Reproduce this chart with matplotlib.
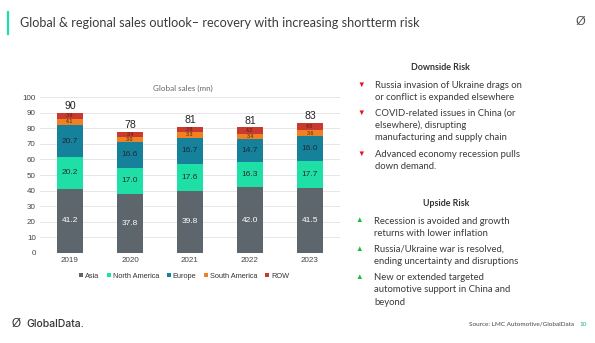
import matplotlib
matplotlib.use("Agg")
import matplotlib.pyplot as plt
import numpy as np

years = ["2019", "2020", "2021", "2022", "2023"]
asia = [41.2, 37.8, 39.8, 42.0, 41.5]
north_america = [20.2, 17.0, 17.6, 16.3, 17.7]
europe = [20.7, 16.6, 16.7, 14.7, 16.0]
south_america = [4.1, 3.0, 3.3, 3.4, 3.6]
row = [3.9, 3.4, 3.8, 4.2, 4.5]
totals = [90, 78, 81, 81, 83]

series = [
    ("Asia", asia, "#5d666d", "white", 6.0),
    ("North America", north_america, "#1ee0a6", "#2a2a2a", 6.0),
    ("Europe", europe, "#16819b", "#1d2a3a", 6.0),
    ("South America", south_america, "#f08022", "#3a2a1a", 3.8),
    ("ROW", row, "#c93a2e", "#5a1a10", 3.8),
]

downside = [
    ["Russia invasion of Ukraine drags on", "or conflict is expanded elsewhere"],
    ["COVID-related issues in China (or", "elsewhere), disrupting",
     "manufacturing and supply chain"],
    ["Advanced economy recession pulls", "down demand."],
]
upside = [
    ["Recession is avoided and growth", "returns with lower inflation"],
    ["Russia/Ukraine war is resolved,", "ending uncertainty and disruptions"],
    ["New or extended targeted", "automotive support in China and", "beyond"],
]

W, H = 595, 343
fig = plt.figure(figsize=(W / 100, H / 100), dpi=100)
fig.patch.set_facecolor("white")


def px(x, y):
    return x / W, 1 - y / H


sans = ["Liberation Sans", "DejaVu Sans"]
body = ["Lato", "DejaVu Sans"]

# header
fig.add_artist(plt.Line2D([8 / W, 8 / W], [1 - 12 / H, 1 - 34 / H], color="#1ee0a6", lw=1.6))
fig.text(*px(20, 23), "Global & regional sales outlook\u2013 recovery with increasing shortterm risk",
         fontsize=9.1, color="#3c3c3c", family=body, va="center", ha="left")
fig.text(*px(580, 22), "\u00d8", fontsize=9, color="#555555", family=sans, ha="center", va="center")

# chart
ax = fig.add_axes([40 / W, 1 - 252.7 / H, 300 / W, 155.4 / H])
x = np.arange(len(years))
bottom = np.zeros(len(years))
handles = []
for name, vals, col, tcol, fs in series:
    b = ax.bar(x, vals, width=0.43, bottom=bottom, color=col, label=name, zorder=3)
    handles.append(b)
    for xi, v, b0 in zip(x, vals, bottom):
        ax.text(xi, b0 + v / 2, f"{v:.1f}", ha="center", va="center",
                fontsize=fs, color=tcol, family=sans, zorder=4)
    bottom += np.array(vals)

for xi, t, b0 in zip(x, totals, bottom):
    ax.text(xi, b0 + 1.2, str(t), ha="center", va="bottom", fontsize=7.6,
            color="#222222", family=sans)

ax.set_xlim(-0.5, 4.5)
ax.set_ylim(0, 100)
ax.set_yticks(range(0, 101, 10))
ax.set_xticks(x)
ax.set_xticklabels(years)
ax.tick_params(length=0, labelsize=5.8, colors="#444444", pad=3)
for lab in ax.get_xticklabels() + ax.get_yticklabels():
    lab.set_family(sans)
ax.grid(axis="y", color="#e2e2e2", lw=0.6, zorder=0)
for s in ax.spines.values():
    s.set_visible(False)
ax.set_facecolor("none")

fig.text(*px(183, 88), "Global sales (mn)", fontsize=5.8, color="#666666",
         family=body, ha="center", va="center")

leg = fig.legend(handles=handles, labels=[s[0] for s in series], loc="center",
                 bbox_to_anchor=px(184, 276), ncol=5, frameon=False,
                 handlelength=0.6, handleheight=0.6, handletextpad=0.25,
                 columnspacing=1.0, prop={"family": sans, "size": 5.3})
for t in leg.get_texts():
    t.set_color("#333333")

# right-hand risk text
fig.text(*px(440, 68), "Downside Risk", fontsize=6.4, fontweight="bold",
         color="#333333", family=body, ha="center", va="center")
fig.text(*px(446, 204), "Upside Risk", fontsize=6.4, fontweight="bold",
         color="#333333", family=body, ha="center", va="center")

line_h = 12.2
y = 85
for item in downside:
    fig.text(*px(361, y), "\u25bc", fontsize=5.5, color="#e8141c", family=sans, ha="center", va="center")
    for ln in item:
        fig.text(*px(375, y), ln, fontsize=6.8, color="#3a3a3a", family=body, ha="left", va="center")
        y += line_h
    y += 4
y = 221
for item in upside:
    fig.text(*px(359, y), "\u25b2", fontsize=5.5, color="#1fb83a", family=sans, ha="center", va="center")
    for ln in item:
        fig.text(*px(374, y), ln, fontsize=6.8, color="#3a3a3a", family=body, ha="left", va="center")
        y += line_h
    y += 4

# footer
fig.text(*px(16, 324), "\u00d8", fontsize=8.5, color="#333333", family=sans, ha="center", va="center")
fig.text(*px(26, 324), "GlobalData.", fontsize=7.5, color="#333333", family=["Inter", "DejaVu Sans"],
         ha="left", va="center", fontweight="medium")
fig.text(*px(574, 324), "Source: LMC Automotive/GlobalData", fontsize=4.6, color="#444444",
         family=body, ha="right", va="center")
fig.text(*px(583, 324), "10", fontsize=4.6, color="#1fb070", family=body, ha="center", va="center")

fig.savefig("out.png", dpi=100, facecolor="white")
